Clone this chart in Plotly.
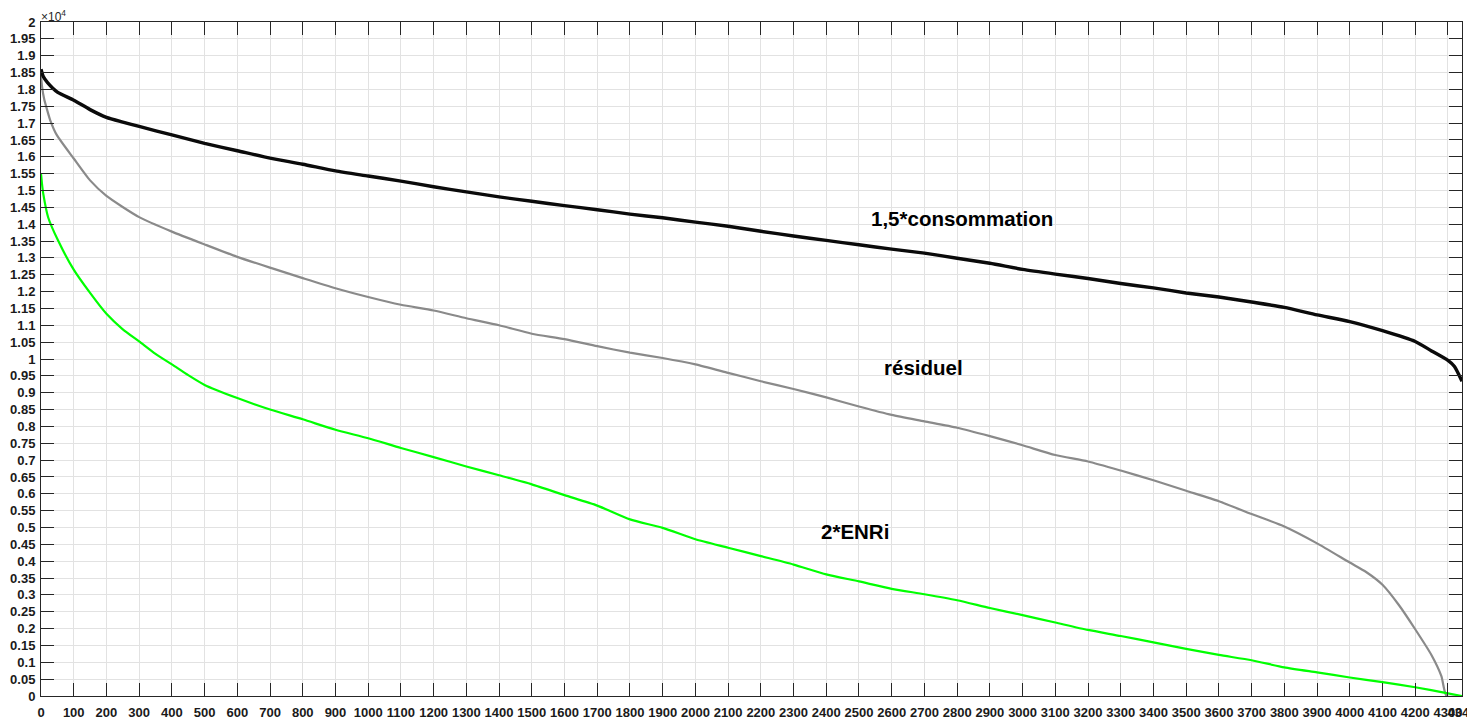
import plotly.graph_objects as go

# ---------------- data ----------------
CONS_X = [0, 7, 20, 50, 100, 150, 200, 250, 300, 400, 500, 600, 700, 800, 900,
          1000, 1100, 1200, 1300, 1400, 1500, 1600, 1700, 1800, 1900, 2000,
          2100, 2200, 2300, 2400, 2500, 2600, 2700, 2800, 2900, 3000, 3100,
          3200, 3300, 3400, 3500, 3600, 3700, 3800, 3900, 4000, 4100, 4200,
          4250, 4300, 4320, 4343]
CONS_Y = [18600, 18380, 18200, 17920, 17680, 17400, 17170, 17030, 16900, 16650,
          16400, 16180, 15960, 15780, 15580, 15430, 15280, 15110, 14960, 14810,
          14680, 14550, 14430, 14300, 14190, 14060, 13940, 13790, 13650, 13520,
          13390, 13260, 13140, 12990, 12840, 12660, 12520, 12390, 12240, 12110,
          11960, 11840, 11690, 11530, 11310, 11110, 10840, 10520, 10240, 9960,
          9780, 9340]

RESID_X = [0, 3, 10, 17, 28, 48, 100, 150, 200, 300, 400, 500, 600, 700, 800,
           900, 1000, 1100, 1200, 1300, 1400, 1500, 1600, 1700, 1800, 1900,
           2000, 2100, 2200, 2300, 2400, 2500, 2600, 2700, 2800, 2900, 3000,
           3100, 3200, 3300, 3400, 3500, 3600, 3700, 3800, 3900, 4000, 4050,
           4100, 4150, 4200, 4250, 4280, 4296, 4343]
RESID_Y = [18450, 18100, 17700, 17450, 17090, 16650, 15950, 15300, 14840, 14210,
           13780, 13400, 13030, 12710, 12400, 12100, 11840, 11610, 11440, 11210,
           11000, 10750, 10590, 10380, 10190, 10030, 9840, 9590, 9340, 9110,
           8860, 8590, 8340, 8150, 7960, 7710, 7440, 7150, 6960, 6690, 6400,
           6090, 5780, 5400, 5030, 4530, 3960, 3680, 3300, 2700, 1980, 1210, 590,
           0, 0]

ENR_X = [0, 3, 7, 22, 53, 100, 150, 200, 250, 300, 350, 400, 450, 500, 600, 700,
         800, 900, 1000, 1100, 1200, 1300, 1400, 1500, 1600, 1700, 1800, 1900,
         2000, 2100, 2200, 2300, 2400, 2500, 2600, 2700, 2800, 2900, 3000, 3100,
         3200, 3300, 3400, 3500, 3600, 3700, 3800, 3900, 4000, 4100, 4200, 4300,
         4343]
ENR_Y = [15500, 15200, 14900, 14200, 13500, 12650, 11960, 11340, 10880, 10520,
         10150, 9840, 9520, 9230, 8840, 8500, 8210, 7900, 7650, 7360, 7090, 6810,
         6550, 6280, 5960, 5650, 5240, 4990, 4650, 4400, 4150, 3900, 3610, 3400,
         3180, 3020, 2840, 2610, 2400, 2180, 1960, 1780, 1590, 1400, 1220, 1060,
         850, 700, 550, 410, 260, 80, 0]

X_TICKS = list(range(0, 4301, 100)) + [4343]
X_TICK_LABELS = [str(v) for v in X_TICKS]
Y_TICKS = list(range(0, 20001, 500))
Y_TICK_LABELS = ["0", "0.05", "0.1", "0.15", "0.2", "0.25", "0.3", "0.35", "0.4",
                 "0.45", "0.5", "0.55", "0.6", "0.65", "0.7", "0.75", "0.8",
                 "0.85", "0.9", "0.95", "1", "1.05", "1.1", "1.15", "1.2", "1.25",
                 "1.3", "1.35", "1.4", "1.45", "1.5", "1.55", "1.6", "1.65", "1.7",
                 "1.75", "1.8", "1.85", "1.9", "1.95", "2"]

LABELS = [("1,5*consommation", 2815, 14180),
          ("résiduel", 2696, 9740),
          ("2*ENRi", 2487, 4880)]

# ---------------- figure ----------------
FONT = "Liberation Sans, Arial, Helvetica, sans-serif"
AX = "#262626"

fig = go.Figure()
fig.add_trace(go.Scatter(x=RESID_X, y=RESID_Y, mode="lines",
                         line=dict(color="#8a8a8a", width=2.2, shape="spline",
                                   smoothing=0.6), name="résiduel"))
fig.add_trace(go.Scatter(x=CONS_X, y=CONS_Y, mode="lines",
                         line=dict(color="#0a0a0a", width=3.4, shape="spline",
                                   smoothing=0.6), name="1,5*consommation"))
fig.add_trace(go.Scatter(x=ENR_X, y=ENR_Y, mode="lines",
                         line=dict(color="#00ff00", width=2.2, shape="spline",
                                   smoothing=0.6), name="2*ENRi"))

for text, x, y in LABELS:
    fig.add_annotation(x=x, y=y, text=f"<b>{text}</b>", showarrow=False,
                       font=dict(family=FONT, size=20.5, color="#000000"),
                       xanchor="center", yanchor="middle")

# exponent marker above the y axis
fig.add_annotation(xref="paper", yref="paper", x=0, y=1, xanchor="left",
                   yanchor="top", yshift=15, xshift=-1, showarrow=False,
                   text="×10<sup>4</sup>", borderpad=0,
                   font=dict(family=FONT, size=12, color=AX))

axis_common = dict(
    showgrid=True, gridcolor="#e2e2e2", gridwidth=1,
    zeroline=False, showline=True, linecolor=AX, linewidth=1,
    mirror="allticks", ticks="inside", ticklen=13, tickwidth=1, tickcolor=AX,
    tickfont=dict(family=FONT, size=13, color="#1a1a1a", weight="bold"),
    automargin=False,
)

fig.update_xaxes(range=[0, 4343], tickmode="array", tickvals=X_TICKS,
                 ticktext=X_TICK_LABELS, tickangle=0, ticklabelstandoff=4,
                 ticklabeloverflow="allow", **axis_common)
fig.update_yaxes(range=[0, 20000], tickmode="array", tickvals=Y_TICKS,
                 ticktext=Y_TICK_LABELS, ticklabelstandoff=2,
                 ticklabeloverflow="allow", **axis_common)

# the page adds an 8px body margin, so the figure margins compensate for it
fig.update_layout(
    width=1475, height=719,
    margin=dict(l=33, r=21, t=14, b=31, pad=0),
    paper_bgcolor="white", plot_bgcolor="white",
    showlegend=False,
    font=dict(family=FONT),
)

fig.write_html("out.html")
